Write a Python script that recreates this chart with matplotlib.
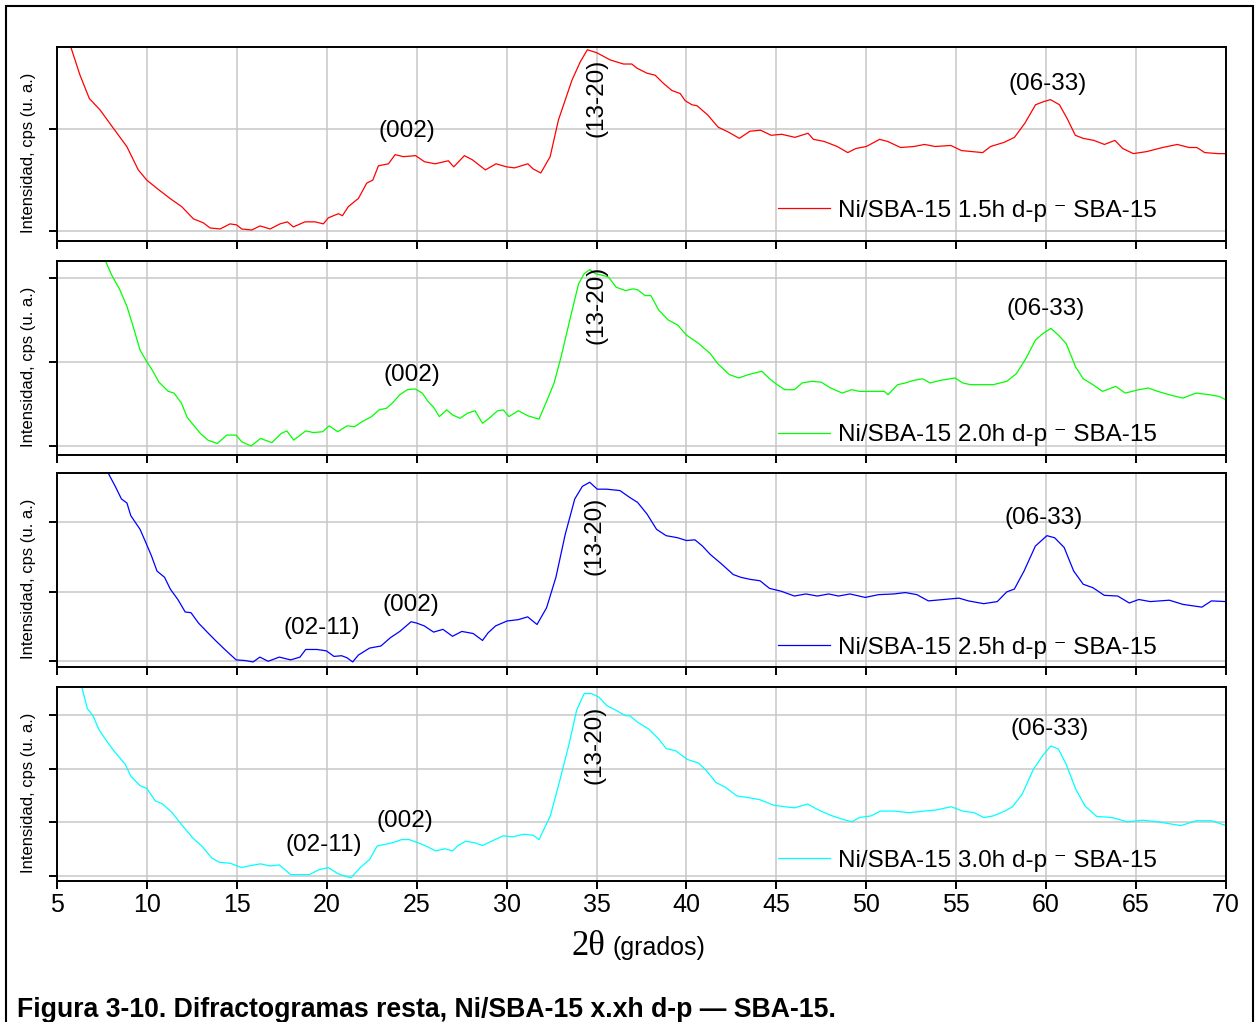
import matplotlib
matplotlib.use("Agg")
import matplotlib.pyplot as plt
from matplotlib.patches import Rectangle

plt.rcParams['font.family'] = ['Liberation Sans', 'DejaVu Sans']

# diffractograms after subtracting the SBA-15 support (cps, arbitrary units)
tt_15h = [5.5, 5.78, 6.28, 6.80, 7.39, 8.13, 8.88, 9.52, 9.99, 10.55,
          11.28, 11.93, 12.58, 13.14, 13.51, 14.07, 14.62, 14.99, 15.27, 15.83,
          16.29, 16.85, 17.40, 17.81, 18.14, 18.79, 19.35, 19.81, 20.09, 20.65,
          20.87, 21.20, 21.76, 22.22, 22.56, 22.87, 23.43, 23.80, 24.26, 24.94,
          25.44, 26.03, 26.76, 27.06, 27.65, 28.09, 28.82, 29.41, 30.0, 30.44,
          31.18, 31.47, 31.9, 32.42, 32.88, 33.63, 34.09, 34.49, 35.02, 35.76,
          36.5, 36.96, 37.24, 37.8, 38.26, 38.72, 39.19, 39.65, 39.93, 40.3,
          40.59, 41.18, 41.76, 42.35, 42.94, 43.53, 44.12, 44.71, 45.29, 46.03,
          46.76, 47.06, 47.65, 48.38, 48.97, 49.41, 50.0, 50.74, 51.18, 51.91,
          52.65, 53.24, 53.82, 54.7, 55.29, 55.88, 56.47, 56.91, 57.65, 58.24,
          58.82, 59.41, 59.85, 60.24, 60.74, 61.18, 61.62, 62.06, 62.65, 63.24,
          63.82, 64.26, 64.85, 65.59, 66.47, 67.29, 67.94, 68.38, 68.82, 69.56,
          70.0]
cps_15h = [205, 180, 153, 130, 119, 101, 83, 60, 50, 42,
           32, 24, 12, 8, 3, 2, 7, 6, 2, 1,
           5, 2, 7, 9, 4, 9, 9, 7, 13, 17,
           15, 24, 32, 47, 50, 64, 66, 75, 73, 74,
           68, 66, 69, 63, 74, 70, 60, 66, 63, 62,
           66, 61, 57, 73, 109, 148, 166, 178, 175, 168,
           164, 164, 160, 155, 153, 145, 138, 135, 128, 124,
           123, 114, 102, 97, 91, 98, 99, 94, 95, 92,
           96, 90, 88, 83, 77, 81, 83, 90, 88, 82,
           83, 85, 83, 84, 79, 78, 77, 83, 87, 92,
           106, 124, 127, 129, 124, 110, 94, 91, 89, 85,
           89, 81, 76, 78, 82, 85, 82, 82, 77, 76,
           76]

tt_20h = [7.3, 7.70, 8.05, 8.47, 8.89, 9.21, 9.62, 10.0, 10.25, 10.67,
          11.19, 11.51, 11.92, 12.24, 12.66, 12.97, 13.39, 13.91, 14.44, 14.96,
          15.27, 15.79, 16.32, 16.95, 17.47, 17.78, 18.16, 18.83, 19.25, 19.77,
          20.13, 20.61, 21.13, 21.55, 21.97, 22.49, 22.91, 23.33, 23.64, 24.06,
          24.48, 24.90, 25.31, 25.63, 25.94, 26.26, 26.67, 26.99, 27.41, 27.82,
          28.24, 28.66, 29.08, 29.50, 29.81, 30.13, 30.65, 31.17, 31.80, 32.22,
          32.64, 33.05, 33.58, 34.0, 34.31, 34.62, 34.94, 35.36, 35.67, 36.09,
          36.61, 37.03, 37.28, 37.70, 38.02, 38.45, 38.98, 39.51, 40.0, 40.68,
          41.32, 41.74, 42.38, 42.91, 43.45, 44.19, 44.62, 45.04, 45.47, 46.0,
          46.43, 46.96, 47.49, 48.02, 48.66, 49.19, 49.62, 50.26, 51.0, 51.21,
          51.74, 52.17, 52.6, 53.13, 53.55, 54.09, 54.94, 55.36, 55.79, 56.43,
          57.06, 57.81, 58.34, 58.87, 59.40, 59.83, 60.26, 60.68, 61.11, 61.64,
          62.06, 62.60, 63.13, 63.87, 64.40, 65.15, 65.68, 66.21, 66.85, 67.60,
          68.34, 69.09, 69.62, 70.0]
cps_20h = [240, 220, 203, 187, 166, 144, 114, 100, 92, 76,
           65, 63, 51, 34, 23, 15, 7, 3, 13, 13,
           5, 0, 9, 4, 15, 18, 7, 18, 16, 17,
           24, 17, 24, 23, 29, 35, 43, 45, 51, 61,
           67, 68, 63, 53, 46, 35, 43, 37, 33, 39,
           42, 27, 34, 42, 43, 35, 42, 36, 32, 53,
           75, 108, 156, 193, 205, 210, 205, 203, 201, 189,
           185, 187, 186, 179, 179, 162, 150, 144, 132, 122,
           110, 98, 85, 81, 85, 89, 80, 73, 67, 67,
           75, 77, 76, 69, 63, 67, 65, 65, 65, 61,
           73, 75, 78, 80, 75, 78, 81, 75, 73, 73,
           73, 77, 86, 104, 126, 134, 140, 132, 122, 94,
           80, 73, 65, 71, 63, 67, 69, 65, 61, 57,
           63, 61, 59, 55]

tt_25h = [7.5, 7.85, 8.26, 8.58, 8.89, 9.10, 9.62, 9.94, 10.25, 10.56,
          10.98, 11.30, 11.72, 12.13, 12.45, 12.87, 13.39, 13.81, 14.33, 14.96,
          15.48, 15.90, 16.28, 16.74, 17.36, 17.99, 18.51, 18.83, 19.46, 19.98,
          20.40, 20.82, 21.13, 21.44, 21.76, 22.38, 23.01, 23.54, 24.06, 24.69,
          25.0, 25.42, 25.94, 26.46, 26.99, 27.51, 28.14, 28.66, 28.97, 29.39,
          30.02, 30.65, 31.17, 31.69, 32.22, 32.74, 33.26, 33.79, 34.21, 34.62,
          35.04, 35.56, 36.30, 36.85, 37.28, 37.81, 38.34, 38.87, 39.51, 40.0,
          40.47, 40.89, 41.32, 41.96, 42.60, 43.02, 43.55, 44.09, 44.62, 45.26,
          46.0, 46.64, 47.28, 47.91, 48.45, 49.09, 49.94, 50.68, 51.53, 52.17,
          52.81, 53.45, 54.30, 55.15, 55.68, 56.53, 57.28, 57.81, 58.23, 58.77,
          59.40, 60.04, 60.47, 61.0, 61.53, 62.06, 62.60, 63.23, 63.98, 64.62,
          65.15, 65.79, 66.85, 67.60, 68.66, 69.19, 70.0]
cps_25h = [290, 271, 251, 234, 228, 210, 190, 171, 152, 130,
           121, 104, 89, 71, 70, 55, 41, 30, 17, 2,
           1, -1, 6, 0, 6, 2, 6, 17, 17, 15,
           7, 8, 5, -1, 9, 19, 22, 34, 43, 57,
           55, 51, 42, 46, 36, 43, 40, 30, 41, 51,
           58, 60, 64, 53, 77, 121, 183, 234, 252, 258,
           248, 248, 246, 236, 229, 212, 190, 181, 178, 174,
           175, 166, 154, 140, 125, 121, 118, 116, 105, 101,
           94, 97, 94, 97, 94, 97, 92, 96, 97, 99,
           96, 87, 89, 91, 87, 83, 86, 100, 104, 130,
           166, 181, 178, 164, 130, 111, 106, 95, 94, 84,
           89, 86, 88, 82, 78, 87, 86]

tt_30h = [6.0, 6.38, 6.69, 7.0, 7.32, 7.74, 8.16, 8.79, 9.10, 9.62,
          10.0, 10.46, 10.88, 11.40, 11.92, 12.55, 13.08, 13.60, 14.02, 14.64,
          15.27, 15.79, 16.32, 16.84, 17.36, 17.99, 18.51, 19.04, 19.56, 20.08,
          20.61, 21.03, 21.34, 21.86, 22.38, 22.80, 23.22, 23.64, 24.16, 24.58,
          25.0, 25.52, 26.05, 26.57, 26.99, 27.30, 27.72, 28.24, 28.66, 29.29,
          29.81, 30.33, 30.96, 31.48, 31.80, 32.43, 32.95, 33.47, 33.89, 34.31,
          34.73, 35.15, 35.56, 36.09, 36.61, 36.85, 37.28, 37.91, 38.45, 38.87,
          39.40, 40.04, 40.68, 41.11, 41.64, 42.17, 42.81, 43.45, 44.09, 44.83,
          45.47, 46.0, 46.74, 47.28, 48.02, 48.66, 49.19, 49.62, 50.26, 50.79,
          51.53, 52.38, 53.23, 53.87, 54.72, 55.36, 56.0, 56.53, 57.06, 57.70,
          58.13, 58.66, 59.30, 59.83, 60.26, 60.68, 61.11, 61.64, 62.17, 62.81,
          63.66, 64.51, 65.36, 66.21, 67.49, 68.34, 69.19, 70.0]
cps_30h = [380, 351, 311, 298, 273, 252, 233, 208, 186, 168,
           163, 140, 134, 118, 96, 71, 55, 34, 26, 24,
           16, 20, 23, 19, 21, 3, 3, 3, 12, 16,
           5, 0, -3, 16, 31, 56, 59, 62, 68, 68,
           63, 56, 47, 51, 47, 57, 65, 62, 57, 67,
           75, 73, 78, 76, 68, 112, 177, 245, 308, 339,
           339, 332, 317, 308, 298, 298, 286, 273, 255, 237,
           233, 217, 210, 196, 174, 165, 149, 146, 142, 132,
           129, 127, 134, 124, 113, 106, 101, 109, 112, 121,
           121, 118, 121, 123, 129, 121, 118, 109, 112, 121,
           129, 152, 199, 225, 242, 236, 208, 162, 130, 111,
           109, 101, 104, 101, 94, 103, 103, 94]

samples = ['Ni/SBA-15 1.5h d-p \u207b SBA-15', 'Ni/SBA-15 2.0h d-p \u207b SBA-15',
           'Ni/SBA-15 2.5h d-p \u207b SBA-15', 'Ni/SBA-15 3.0h d-p \u207b SBA-15']
colors = ['#ff0000', '#00ff00', '#0000ff', '#00ffff']

# reflection labels per panel: (text, 2theta, cps, rotation)
peaks_15h = [('(002)', 24.47, 98, 0), ('(13-20)', 34.98, 131, 90), ('(06-33)', 60.1, 144, 0)]
peaks_20h = [('(002)', 24.74, 84, 0), ('(13-20)', 34.98, 168, 90), ('(06-33)', 59.95, 163, 0)]
peaks_25h = [('(02-11)', 19.74, 48, 0), ('(002)', 24.69, 81, 0), ('(13-20)', 34.87, 180, 90),
             ('(06-33)', 59.84, 207, 0)]
peaks_30h = [('(02-11)', 19.85, 58, 0), ('(002)', 24.35, 103, 0), ('(13-20)', 34.87, 243, 90),
             ('(06-33)', 60.17, 273, 0)]

panels = [
    (tt_15h, cps_15h, peaks_15h, (-9.8, 180.4), [0, 100], 0.7642),
    (tt_20h, cps_20h, peaks_20h, (-10.7, 219.8), [0, 100, 200], 0.5548),
    (tt_25h, cps_25h, peaks_25h, (-8.2, 270.9), [0, 100, 200], 0.3474),
    (tt_30h, cps_30h, peaks_30h, (-8.8, 350.8), [0, 100, 200, 300], 0.1380),
]
legend_y = [0.155, 0.103, 0.098, 0.104]

fig = plt.figure(figsize=(12.57, 10.22), dpi=100)

fs = 17.5
for i, (tt, cps, peaks, ylim, yt, bottom) in enumerate(panels):
    ax = fig.add_axes([0.04535, bottom, 0.93, 0.1895])
    ax.plot(tt, cps, color=colors[i], lw=0.9, label=samples[i])
    ax.set_xlim(5, 70)
    ax.set_ylim(*ylim)
    ax.set_xticks(range(5, 71, 5))
    ax.set_yticks(yt)
    ax.set_yticklabels([])
    ax.grid(True, color='#c8c8c8', lw=1.1)
    ax.set_axisbelow(True)
    for s in ax.spines.values():
        s.set_linewidth(1.4)
    ax.tick_params(axis='both', direction='out', length=6, width=1.4)
    if i < 3:
        ax.set_xticklabels([])
    else:
        ax.tick_params(axis='x', labelsize=18, pad=3)
    ax.set_ylabel('Intensidad, cps (u. a.)', fontsize=12)
    ax.yaxis.set_label_coords(-0.018, 0.457)
    for text, x, y, rot in peaks:
        ax.text(x, y, text, ha='center', va='center', rotation=rot, fontsize=fs)
    ax.legend(loc='center left', bbox_to_anchor=(0.6168, legend_y[i]), frameon=False,
              fontsize=fs, handlelength=2.15, handletextpad=0.33,
              borderpad=0, borderaxespad=0)

# x axis title under the bottom panel
fig.text(605 / 1257, 1 - 955 / 1022, '2\u03b8', family='Liberation Serif', fontsize=25,
         ha='right', va='baseline')
fig.text(612 / 1257, 1 - 955 / 1022, '(grados)', fontsize=18, ha='left', va='baseline')

fig.text(17 / 1257, 1 - 1017 / 1022,
         'Figura 3-10. Difractogramas resta, Ni/SBA-15 x.xh d-p \u2014 SBA-15.',
         fontsize=19.2, fontweight='bold', ha='left', va='baseline')

# page frame around the figure
fig.patches.append(Rectangle((6 / 1257, -0.02), 1247 / 1257, 1.0141, transform=fig.transFigure,
                             fill=False, lw=1.5, edgecolor='black'))

fig.savefig('out.png', dpi=100)
